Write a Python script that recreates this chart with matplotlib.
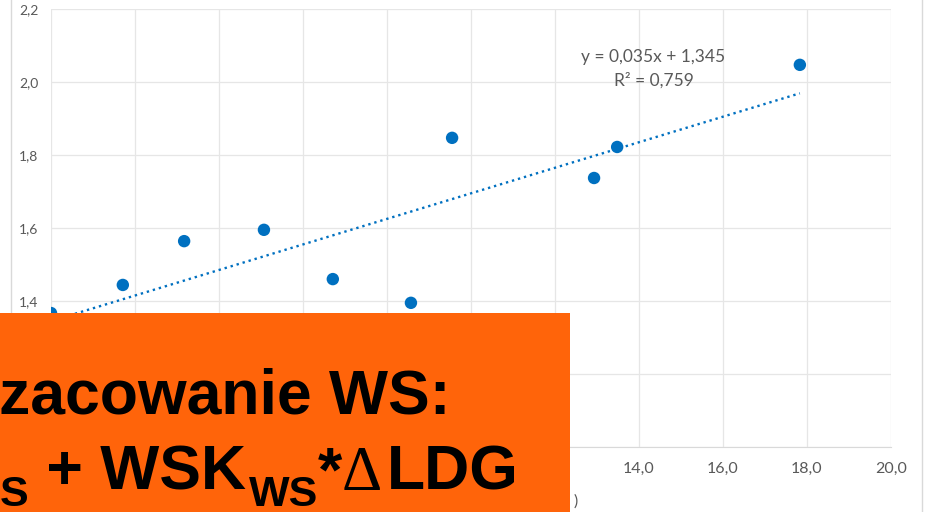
import numpy as np
import matplotlib
matplotlib.use('Agg')
import matplotlib.pyplot as plt
from matplotlib.patches import Rectangle
from matplotlib.lines import Line2D

plt.rcParams['font.family'] = ['Lato', 'DejaVu Sans']

# dane
x_vals = [0.0, 1.71, 3.17, 5.07, 6.71, 8.57, 9.55, 12.93, 13.48, 17.83]
y_vals = [1.367, 1.444, 1.564, 1.595, 1.460, 1.395, 1.847, 1.737, 1.822, 2.047]
slope = 0.035
intercept = 1.345
r2 = 0.759
x_ticks = [14.0, 16.0, 18.0, 20.0]

W, H = 927, 512
fig = plt.figure(figsize=(W / 100, H / 100), dpi=100)

def px(x, y):
    # piksele -> wspolrzedne figury
    return x / W, 1 - y / H

ax = fig.add_axes([51 / W, (H - 447) / H, (891 - 51) / W, (447 - 9) / H])
ax.set_xlim(0, 20)
ax.set_ylim(1.0, 2.2)
ax.set_xticks(np.arange(0, 20.1, 2))
ax.set_yticks(np.arange(1.0, 2.21, 0.2))
ax.set_xticklabels(['' if t not in x_ticks else f'{t:.1f}'.replace('.', ',') for t in np.arange(0, 20.1, 2)])
ax.set_yticklabels([f'{t:.1f}'.replace('.', ',') for t in np.arange(1.0, 2.21, 0.2)])
ax.grid(True, color='#E6E6E6', lw=0.9)
ax.set_axisbelow(True)
for s in ['top', 'right', 'left']:
    ax.spines[s].set_visible(False)
ax.spines['bottom'].set_color('#D9D9D9')
ax.tick_params(length=0, colors='#595959')
ax.tick_params(axis='x', labelsize=11.5, pad=11)
ax.tick_params(axis='y', labelsize=10, pad=9)

# linia trendu
xt = np.array([min(x_vals), max(x_vals)])
ax.plot(xt, slope * xt + intercept, ls=':', lw=1.7, color='#0070C0', zorder=2)
ax.scatter(x_vals, y_vals, s=80, color='#0070C0', zorder=3, edgecolors='none')

ax.text(653 / W, 1 - 57 / H, f'y = {slope:.3f}x + {intercept:.3f}'.replace('.', ','),
        transform=fig.transFigure, ha='center', va='center', fontsize=12.5, color='#595959')
ax.text(654 / W, 1 - 80 / H, f'R² = {r2:.3f}'.replace('.', ','),
        transform=fig.transFigure, ha='center', va='center', fontsize=12.5, color='#595959')

# opis osi x (widoczny tylko koniec)
fig.text(*px(578, 502), ')', ha='right', va='center', fontsize=11.5, color='#595959')

# ramka wykresu
fig.add_artist(Line2D([11 / W, 11 / W], [0, 1], color='#D9D9D9', lw=1, transform=fig.transFigure))
fig.add_artist(Line2D([922 / W, 922 / W], [0, 1], color='#D9D9D9', lw=1, transform=fig.transFigure))

# pomaranczowy blok z tekstem
fig.add_artist(Rectangle((0, 0), 570 / W, (H - 313) / H, transform=fig.transFigure,
                         facecolor='#FF640A', edgecolor='none', zorder=5))
big = dict(fontsize=45, fontweight='bold', family='Liberation Sans', color='black', va='baseline', zorder=6)
small = dict(fontsize=31, fontweight='bold', family='Liberation Sans', color='black', va='baseline', zorder=6)
fig.text(*px(-1, 413), 'zacowanie WS:', **big)
fig.text(*px(0, 506), 'S', **small)
fig.text(*px(29, 490), ' + WSK', **big)
fig.text(*px(249, 506), 'WS', **small)
fig.text(*px(318, 490), '*', **big)
fig.text(*px(342, 490), 'Δ', fontsize=45, family='Liberation Serif', color='black', va='baseline', zorder=6)
fig.text(*px(387, 490), 'LDG', **big)

fig.savefig('out.png', dpi=100)
